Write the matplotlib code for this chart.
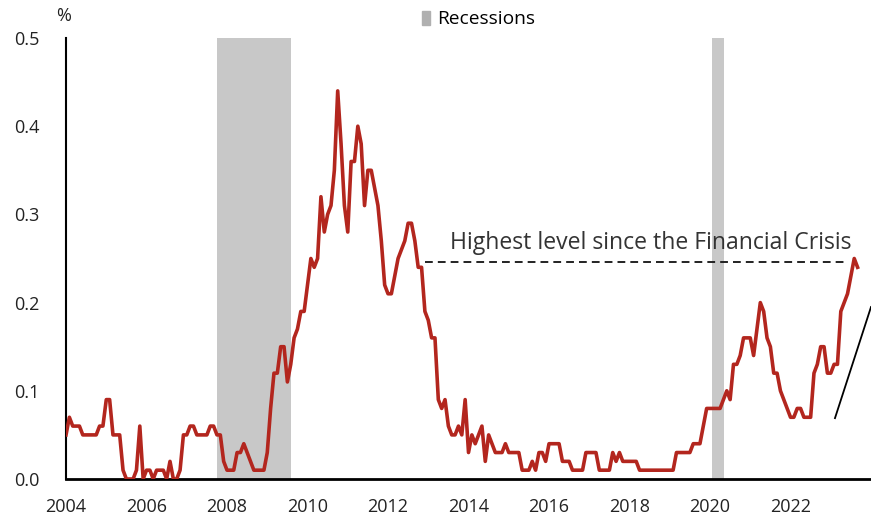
import numpy as np
import matplotlib
matplotlib.use("Agg")
import matplotlib.pyplot as plt
from matplotlib.patches import Patch

# monthly values, Jan 2004 - Sep 2023 (%)
rate = [
    0.05, 0.07, 0.06, 0.06, 0.06, 0.05, 0.05, 0.05, 0.05, 0.05, 0.06, 0.06,  # 2004
    0.09, 0.09, 0.05, 0.05, 0.05, 0.01, 0.00, 0.00, 0.00, 0.01, 0.06, 0.00,  # 2005
    0.01, 0.01, 0.00, 0.01, 0.01, 0.01, 0.00, 0.02, 0.00, 0.00, 0.01, 0.05,  # 2006
    0.05, 0.06, 0.06, 0.05, 0.05, 0.05, 0.05, 0.06, 0.06, 0.05, 0.05, 0.02,  # 2007
    0.01, 0.01, 0.01, 0.03, 0.03, 0.04, 0.03, 0.02, 0.01, 0.01, 0.01, 0.01,  # 2008
    0.03, 0.08, 0.12, 0.12, 0.15, 0.15, 0.11, 0.13, 0.16, 0.17, 0.19, 0.19,  # 2009
    0.22, 0.25, 0.24, 0.25, 0.32, 0.28, 0.30, 0.31, 0.35, 0.44, 0.38, 0.31,  # 2010
    0.28, 0.36, 0.36, 0.40, 0.38, 0.31, 0.35, 0.35, 0.33, 0.31, 0.27, 0.22,  # 2011
    0.21, 0.21, 0.23, 0.25, 0.26, 0.27, 0.29, 0.29, 0.27, 0.24, 0.24, 0.19,  # 2012
    0.18, 0.16, 0.16, 0.09, 0.08, 0.09, 0.06, 0.05, 0.05, 0.06, 0.05, 0.09,  # 2013
    0.03, 0.05, 0.04, 0.05, 0.06, 0.02, 0.05, 0.04, 0.03, 0.03, 0.03, 0.04,  # 2014
    0.03, 0.03, 0.03, 0.03, 0.01, 0.01, 0.01, 0.02, 0.01, 0.03, 0.03, 0.02,  # 2015
    0.04, 0.04, 0.04, 0.04, 0.02, 0.02, 0.02, 0.01, 0.01, 0.01, 0.01, 0.03,  # 2016
    0.03, 0.03, 0.03, 0.01, 0.01, 0.01, 0.01, 0.03, 0.02, 0.03, 0.02, 0.02,  # 2017
    0.02, 0.02, 0.02, 0.01, 0.01, 0.01, 0.01, 0.01, 0.01, 0.01, 0.01, 0.01,  # 2018
    0.01, 0.01, 0.03, 0.03, 0.03, 0.03, 0.03, 0.04, 0.04, 0.04, 0.06, 0.08,  # 2019
    0.08, 0.08, 0.08, 0.08, 0.09, 0.10, 0.09, 0.13, 0.13, 0.14, 0.16, 0.16,  # 2020
    0.16, 0.14, 0.17, 0.20, 0.19, 0.16, 0.15, 0.12, 0.12, 0.10, 0.09, 0.08,  # 2021
    0.07, 0.07, 0.08, 0.08, 0.07, 0.07, 0.07, 0.12, 0.13, 0.15, 0.15, 0.12,  # 2022
    0.12, 0.13, 0.13, 0.19, 0.20, 0.21, 0.23, 0.25, 0.24,                    # 2023
]
start_year = 2004
recessions = [(2007.74, 2009.58), (2020.06, 2020.35)]
year_ticks = [2004, 2006, 2008, 2010, 2012, 2014, 2016, 2018, 2020, 2022]
y_ticks = [0.0, 0.1, 0.2, 0.3, 0.4, 0.5]
crisis_level = 0.246
crisis_span = (2012.92, 2023.43)
trend_x = [2023.105, 2024.0]
trend_y = [0.069, 0.195]

x = start_year + np.arange(len(rate)) / 12

plt.rcParams["font.family"] = ["Open Sans", "DejaVu Sans"]
fig = plt.figure(figsize=(8.71, 5.16), dpi=100)
ax = fig.add_axes([0.0758, 0.0717, 0.9242, 0.8547])

for a, b in recessions:
    ax.axvspan(a, b, color="#c8c8c8", lw=0, zorder=1)

ax.plot(x, rate, color="#b3261e", lw=2.6, zorder=3)
ax.hlines(crisis_level, *crisis_span, colors="#222222", linestyles=(0, (4, 2.6)), lw=1.4, zorder=2)
ax.text(crisis_span[1] + 0.08, crisis_level + 0.008, "Highest level since the Financial Crisis",
        ha="right", va="bottom", fontsize=16.6, color="#333333")
ax.plot(trend_x, trend_y, color="black", lw=1.3, clip_on=False, zorder=2)

ax.set_xlim(2004, 2024)
ax.set_ylim(0, 0.5)
ax.set_xticks(year_ticks)
ax.set_xticklabels([str(t) for t in year_ticks])
ax.set_yticks(y_ticks)
ax.set_yticklabels([f"{t:.1f}" for t in y_ticks])
ax.tick_params(length=0, labelsize=13, colors="#222222")
ax.tick_params(axis="y", pad=19)
ax.tick_params(axis="x", pad=13.5)
for s in ["top", "right"]:
    ax.spines[s].set_visible(False)
ax.spines["left"].set_linewidth(1.5)
ax.spines["bottom"].set_linewidth(2)

fig.text(64 / 871, 1 - 16 / 516, "%", ha="center", va="center", fontsize=13, color="#222222")
ax.legend(handles=[Patch(color="#b0b0b0", label="Recessions")], loc="lower center",
          bbox_to_anchor=(0.512, 1.0), frameon=False, fontsize=13.8,
          handlelength=0.45, handleheight=0.75, handletextpad=0.35, borderaxespad=0.1)

fig.savefig("out.png", dpi=100)
